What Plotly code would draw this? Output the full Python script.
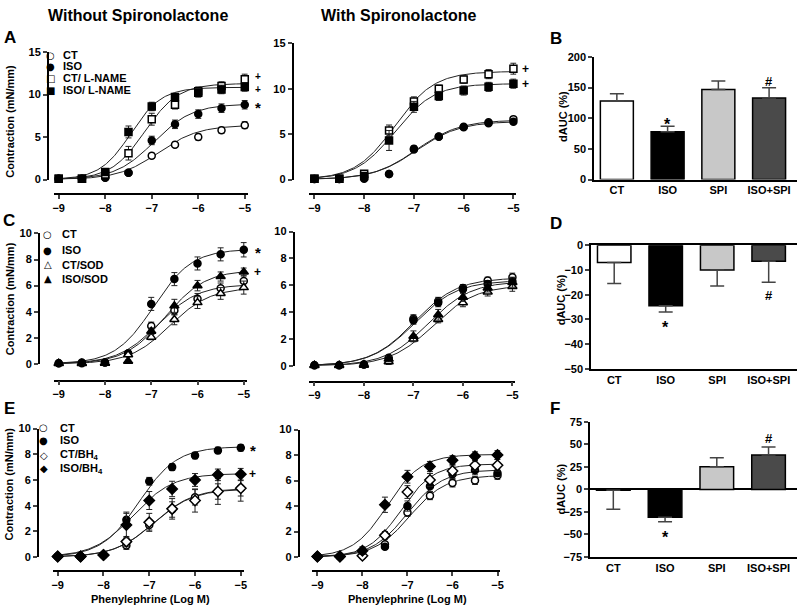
import numpy as np
import plotly.graph_objects as go

W, H = 800, 615
FONT = "Arial, Liberation Sans, sans-serif"

# ---------------- data ----------------
LOG_DOSE = [-9, -8.5, -8, -7.5, -7, -6.5, -6, -5.5, -5]
X_TICKS = [-9, -8, -7, -6, -5]

# Panel A (L-NAME)
A1_MEANS = {"CT": [0.1, 0.1, 0.25, 0.8, 2.8, 4.1, 5.0, 5.8, 6.4],
            "ISO": [0.1, 0.1, 0.2, 0.8, 4.6, 6.5, 7.7, 8.4, 8.8],
            "CT/ L-NAME": [0.1, 0.1, 0.6, 3.1, 7.1, 8.8, 10.4, 11.0, 11.8],
            "ISO/ L-NAME": [0.1, 0.1, 0.9, 5.6, 8.6, 9.7, 10.2, 10.6, 10.9]}
A1_SEMS = {"CT": [0.05, 0.05, 0.1, 0.2, 0.3, 0.3, 0.35, 0.35, 0.4],
           "ISO": [0.05, 0.05, 0.1, 0.2, 0.5, 0.5, 0.5, 0.5, 0.5],
           "CT/ L-NAME": [0.05, 0.05, 0.2, 0.8, 0.7, 0.5, 0.5, 0.5, 0.6],
           "ISO/ L-NAME": [0.05, 0.05, 0.3, 0.7, 0.5, 0.4, 0.5, 0.5, 0.5]}
A1_FITS = {"CT": [6.4, -6.85, 1.0], "ISO": [8.9, -6.95, 1.05],
           "CT/ L-NAME": [11.3, -7.15, 1.2], "ISO/ L-NAME": [10.85, -7.45, 1.3]}

A2_MEANS = {"CT": [0.05, 0.05, 0.3, 0.6, 3.3, 4.7, 5.8, 6.3, 6.65],
            "ISO": [0.05, 0.05, 0.1, 0.6, 3.4, 4.75, 5.75, 6.2, 6.35],
            "CT/ L-NAME": [0.1, 0.1, 0.65, 5.4, 8.6, 10.0, 11.0, 11.6, 12.2],
            "ISO/ L-NAME": [0.1, 0.1, 0.4, 4.3, 8.0, 9.2, 9.8, 10.2, 10.55]}
A2_SEMS = {"CT": [0.02, 0.02, 0.1, 0.15, 0.25, 0.25, 0.2, 0.2, 0.2],
           "ISO": [0.02, 0.02, 0.05, 0.15, 0.3, 0.25, 0.2, 0.2, 0.2],
           "CT/ L-NAME": [0.05, 0.05, 0.2, 0.6, 0.5, 0.4, 0.4, 0.5, 0.6],
           "ISO/ L-NAME": [0.05, 0.05, 0.2, 1.1, 0.6, 0.5, 0.5, 0.5, 0.5]}
A2_FITS = {"CT": [6.55, -6.95, 1.0], "ISO": [6.4, -6.95, 1.0],
           "CT/ L-NAME": [11.9, -7.38, 1.1], "ISO/ L-NAME": [10.55, -7.38, 1.1]}

# Panel C (SOD)
C1_MEANS = {"CT": [0.05, 0.05, 0.1, 0.8, 2.9, 4.1, 5.0, 5.8, 6.35],
            "ISO": [0.05, 0.1, 0.1, 0.8, 4.6, 6.5, 7.7, 8.4, 8.75],
            "CT/SOD": [0.02, 0.02, 0.05, 0.7, 2.05, 3.4, 4.7, 5.4, 5.85],
            "ISO/SOD": [0.05, 0.05, 0.05, 0.2, 2.5, 4.45, 6.0, 6.7, 7.05]}
C1_SEMS = {"CT": [0.02, 0.02, 0.05, 0.1, 0.3, 0.35, 0.4, 0.4, 0.4],
           "ISO": [0.02, 0.02, 0.05, 0.1, 0.5, 0.5, 0.5, 0.5, 0.55],
           "CT/SOD": [0.02, 0.02, 0.05, 0.1, 0.2, 0.4, 0.45, 0.45, 0.5],
           "ISO/SOD": [0.02, 0.02, 0.03, 0.1, 0.25, 0.5, 0.4, 0.35, 0.3]}
C1_FITS = {"CT": [6.1, -6.85, 1.0], "ISO": [8.8, -6.95, 1.05],
           "CT/SOD": [5.85, -6.6, 1.0], "ISO/SOD": [7.2, -6.7, 1.0]}

C2_MEANS = {"CT": [0.05, 0.05, 0.1, 0.6, 3.5, 4.8, 5.8, 6.35, 6.6],
            "ISO": [0.05, 0.05, 0.1, 0.5, 3.4, 4.7, 5.7, 6.1, 6.3],
            "CT/SOD": [0.02, 0.02, 0.05, 0.3, 2.0, 3.45, 4.7, 5.5, 5.9],
            "ISO/SOD": [0.05, 0.05, 0.1, 0.5, 2.2, 3.8, 5.1, 5.8, 6.2]}
C2_SEMS = {"CT": [0.02, 0.02, 0.05, 0.15, 0.3, 0.3, 0.25, 0.25, 0.3],
           "ISO": [0.02, 0.02, 0.05, 0.15, 0.3, 0.3, 0.25, 0.25, 0.3],
           "CT/SOD": [0.02, 0.02, 0.05, 0.2, 0.2, 0.25, 0.3, 0.3, 0.35],
           "ISO/SOD": [0.02, 0.02, 0.05, 0.2, 0.4, 0.4, 0.3, 0.3, 0.35]}
C2_FITS = {"CT": [6.55, -6.98, 1.0], "ISO": [6.35, -6.98, 1.0],
           "CT/SOD": [6.0, -6.6, 1.0], "ISO/SOD": [6.3, -6.7, 1.0]}

# Panel E (BH4)
E1_MEANS = {"CT": [0.05, 0.05, 0.15, 0.9, 2.5, 3.7, 4.65, 5.1, 5.35],
            "ISO": [0.05, 0.05, 0.15, 2.9, 5.9, 7.0, 7.9, 8.3, 8.5],
            "CT/BH4": [0.05, 0.05, 0.15, 1.2, 2.7, 3.75, 4.4, 5.1, 5.35],
            "ISO/BH4": [0.05, 0.05, 0.15, 2.5, 4.4, 5.3, 6.0, 6.4, 6.45]}
E1_SEMS = {"CT": [0.02, 0.02, 0.05, 0.3, 0.4, 0.6, 0.6, 0.6, 0.6],
           "ISO": [0.02, 0.02, 0.05, 0.5, 0.3, 0.25, 0.25, 0.25, 0.25],
           "CT/BH4": [0.02, 0.02, 0.05, 0.4, 0.7, 0.8, 0.9, 1.0, 1.0],
           "ISO/BH4": [0.02, 0.02, 0.05, 1.0, 0.7, 0.6, 0.5, 0.45, 0.45]}
E1_FITS = {"CT": [5.35, -6.9, 1.0], "ISO": [8.6, -7.22, 1.05],
           "CT/BH4": [5.3, -6.9, 1.0], "ISO/BH4": [6.5, -7.35, 1.0]}

E2_MEANS = {"CT": [0.05, 0.05, 0.1, 1.0, 3.5, 4.8, 5.8, 6.0, 6.4],
            "ISO": [0.05, 0.05, 0.1, 0.8, 4.0, 5.55, 6.5, 6.8, 6.6],
            "CT/BH4": [0.05, 0.05, 0.1, 1.7, 5.1, 6.05, 6.75, 7.2, 7.2],
            "ISO/BH4": [0.05, 0.05, 0.5, 4.1, 6.3, 7.1, 7.6, 7.9, 8.0]}
E2_SEMS = {"CT": [0.02, 0.02, 0.05, 0.15, 0.3, 0.3, 0.3, 0.3, 0.3],
           "ISO": [0.02, 0.02, 0.05, 0.15, 0.4, 0.4, 0.35, 0.35, 0.3],
           "CT/BH4": [0.02, 0.02, 0.05, 0.3, 0.5, 0.5, 0.4, 0.4, 0.45],
           "ISO/BH4": [0.02, 0.02, 0.3, 0.6, 0.5, 0.4, 0.35, 0.35, 0.35]}
E2_FITS = {"CT": [6.4, -6.95, 1.1], "ISO": [6.85, -7.0, 1.1],
           "CT/BH4": [7.3, -7.15, 1.2], "ISO/BH4": [8.05, -7.45, 1.15]}

# Bar panels (dAUC %)
BAR_CATS = ["CT", "ISO", "SPI", "ISO+SPI"]
B_MEAN = [128, 78, 147, 133]
B_SEM = [12, 9, 14, 17]
D_MEAN = [-7, -24.5, -10, -6.5]
D_SEM = [8.5, 2.5, 6.5, 8.5]
F_MEAN = [-1, -31, 25, 38]
F_SEM = [21, 5, 10, 9]

# ---------------- styling ----------------
BAR_COLORS = ["white", "black", "#c8c8c8", "#4a4a4a"]
SYMS = {
    "A": [("circle", "white"), ("circle", "black"), ("square", "white"), ("square", "black")],
    "C": [("circle", "white"), ("circle", "black"), ("triangle-up", "white"), ("triangle-up", "black")],
    "E": [("circle", "white"), ("circle", "black"), ("diamond", "white"), ("diamond", "black")],
}
GLYPHS = {"A": ["○", "●", "□", "■"], "C": ["○", "●", "△", "▲"], "E": ["○", "●", "◇", "◆"]}


def px(x):
    return x / W


def py(y):
    return 1 - y / H


fig = go.Figure()
layout = {}
annotations = []


def curve_panel(n, means, sems, fits, sym_key, yaxis_x, y0, ytop, ymax, dtick,
                xline_y, x9, x5, xl, xr):
    ppu = (x5 - x9) / 4.0
    xa = "x" if n == 1 else f"x{n}"
    ya = "y" if n == 1 else f"y{n}"
    xgrid = np.linspace(-9, -5, 200)
    for i, name in enumerate(means):
        top, ec50, hill = fits[name]
        yfit = top / (1 + 10 ** ((ec50 - xgrid) * hill))
        fig.add_trace(go.Scatter(x=xgrid, y=yfit, mode="lines", xaxis=xa, yaxis=ya,
                                 line=dict(color="#222", width=1), hoverinfo="skip",
                                 showlegend=False))
    for i, name in enumerate(means):
        sym, col = SYMS[sym_key][i]
        size = 7 if sym in ("circle", "square") else 8
        fig.add_trace(go.Scatter(
            x=LOG_DOSE, y=means[name], mode="markers", xaxis=xa, yaxis=ya,
            name=name, showlegend=False, cliponaxis=False,
            marker=dict(symbol=sym, size=size, color=col, line=dict(color="black", width=1.5)),
            error_y=dict(type="data", array=sems[name], color="#222", thickness=1, width=3)))
    layout["xaxis" if n == 1 else f"xaxis{n}"] = dict(
        domain=[px(xl), px(xr)], range=[-9 - (x9 - xl) / ppu, -5 + (xr - x5) / ppu],
        anchor="free", position=py(xline_y), tickvals=X_TICKS,
        ticks="outside", ticklen=4, tickwidth=1.5, showline=True, linewidth=1.5,
        linecolor="black", showgrid=False, zeroline=False,
        tickfont=dict(family=FONT, size=11, color="black", weight="bold"))
    layout["yaxis" if n == 1 else f"yaxis{n}"] = dict(
        domain=[py(y0), py(ytop)], range=[0, ymax], dtick=dtick,
        anchor="free", position=px(yaxis_x),
        ticks="outside", ticklen=4, tickwidth=1.5, showline=True, linewidth=1.5,
        linecolor="black", showgrid=False, zeroline=False,
        tickfont=dict(family=FONT, size=11, color="black", weight="bold"))


def bar_panel(n, means, sems, yaxis_x, y_bottom, y_top, yrange, dtick, xr, mirror, zeroline):
    xa = f"x{n}"
    ya = f"y{n}"
    up = [s if m > 0 else 0 for m, s in zip(means, sems)]
    down = [0 if m > 0 else s for m, s in zip(means, sems)]
    fig.add_trace(go.Bar(
        x=BAR_CATS, y=means, xaxis=xa, yaxis=ya, width=0.65, showlegend=False,
        marker=dict(color=BAR_COLORS, line=dict(color="black", width=1.5)),
        error_y=dict(type="data", symmetric=False, array=up, arrayminus=down,
                     color="#444", thickness=1.5, width=7)))
    layout[f"xaxis{n}"] = dict(
        domain=[px(yaxis_x), px(xr)], range=[-0.45, 3.55], anchor=ya, type="category",
        showline=True, linewidth=1.5, linecolor="black", mirror=mirror, ticks="",
        showgrid=False, zeroline=False,
        tickfont=dict(family=FONT, size=11, color="black", weight="bold"))
    layout[f"yaxis{n}"] = dict(
        domain=[py(y_bottom), py(y_top)], range=yrange, dtick=dtick, anchor=xa,
        ticks="outside", ticklen=4, tickwidth=1.5, showline=True, linewidth=1.5,
        linecolor="black", showgrid=False, zeroline=zeroline, zerolinecolor="black",
        zerolinewidth=1.5,
        tickfont=dict(family=FONT, size=11, color="black", weight="bold"))


# Row A
curve_panel(1, A1_MEANS, A1_SEMS, A1_FITS, "A", 47, 177, 47, 15, 5, 192, 58, 245, 53, 248)
curve_panel(2, A2_MEANS, A2_SEMS, A2_FITS, "A", 293, 177, 38, 15, 5, 192, 315, 515, 310, 518)
bar_panel(3, B_MEAN, B_SEM, 596, 177, 52, [0, 200], 50, 800, False, False)
# Row C
curve_panel(4, C1_MEANS, C1_SEMS, C1_FITS, "C", 38, 365, 232, 10, 2, 382, 58, 244, 53, 247)
curve_panel(5, C2_MEANS, C2_SEMS, C2_FITS, "C", 294, 367, 230, 10, 2, 383, 315, 514, 310, 517)
bar_panel(6, D_MEAN, D_SEM, 593, 370, 244, [-50, 0], 10, 800, True, False)
# Row E
curve_panel(7, E1_MEANS, E1_SEMS, E1_FITS, "E", 37, 562, 431, 10, 2, 576, 57, 241, 52, 244)
curve_panel(8, E2_MEANS, E2_SEMS, E2_FITS, "E", 299, 562, 432, 10, 2, 576, 318, 499, 313, 502)
bar_panel(9, F_MEAN, F_SEM, 592, 562, 424, [-75, 75], 25, 800, False, True)


def txt(x, y, s, size=11, bold=True, angle=0, xanchor="center", family=FONT):
    annotations.append(dict(
        x=px(x), y=py(y), xref="paper", yref="paper", text=s, showarrow=False,
        xanchor=xanchor, yanchor="middle", textangle=angle,
        font=dict(family=family, size=size, color="black", weight="bold" if bold else "normal")))


# headers and panel letters
txt(138, 10, "Without Spironolactone", size=16)
txt(400, 10, "With Spironolactone", size=16)
for letter, (lx, ly) in {"A": (9, 32), "C": (8, 219), "E": (9, 411),
                         "B": (558, 33), "D": (558, 222), "F": (557, 411)}.items():
    txt(lx, ly, letter, size=17)

# y-axis titles
for yy in (117, 298, 487):
    txt(9, yy, "Contraction (mN/mm)", size=11, angle=-90)
for (xx, yy) in ((565, 113), (563, 300), (563, 493)):
    txt(xx, yy, "dAUC (%)", size=11, angle=-90)
# x-axis titles
txt(150, 605, "Phenylephrine (Log M)", size=11)
txt(409, 605, "Phenylephrine (Log M)", size=11)

# legends
LEG_LABELS = {"A": list(A1_MEANS.keys()), "C": list(C1_MEANS.keys()),
              "E": ["CT", "ISO", "CT/BH<sub>4</sub>", "ISO/BH<sub>4</sub>"]}
LEG_POS = {"A": (50, 60, [50, 61.5, 73.5, 86]),
           "C": (47, 59, [233, 249, 264, 278]),
           "E": (43, 57, [430, 443, 458, 472])}
for key, (gx, tx, rows) in LEG_POS.items():
    for g, lab, ry in zip(GLYPHS[key], LEG_LABELS[key], rows):
        txt(gx, ry, g, size=10, bold=False, family="DejaVu Sans")
        txt(tx, ry, lab, size=11, xanchor="left")


# significance marks next to curves (data coords of each panel)
def mark(n, yval, s, shift, size=None):
    annotations.append(dict(
        x=-5, y=yval, xref=("x" if n == 1 else f"x{n}"), yref=("y" if n == 1 else f"y{n}"),
        text=s, showarrow=False, xshift=shift, yshift=(-3 if s == "*" else 0),
        font=dict(family=FONT, size=size or (15 if s == "*" else 12), color="black",
                  weight="bold")))


mark(1, A1_MEANS["CT/ L-NAME"][-1] + 0.35, "+", 13, 10)
mark(1, A1_MEANS["ISO/ L-NAME"][-1] - 0.35, "+", 13, 10)
mark(1, A1_MEANS["ISO"][-1], "*", 13)
mark(2, A2_MEANS["CT/ L-NAME"][-1], "+", 12)
mark(2, A2_MEANS["ISO/ L-NAME"][-1], "+", 12)
mark(4, C1_MEANS["ISO"][-1], "*", 14)
mark(4, C1_MEANS["ISO/SOD"][-1], "+", 14)
mark(7, E1_MEANS["ISO"][-1], "*", 12)
mark(7, E1_MEANS["ISO/BH4"][-1], "+", 12)


# significance marks on bars
def bar_mark(n, cat, yval, s):
    annotations.append(dict(
        x=cat, y=yval, xref=f"x{n}", yref=f"y{n}", text=s, showarrow=False,
        yshift=(-4 if s == "*" else 0),
        font=dict(family=FONT, size=16 if s == "*" else 13, color="black", weight="bold")))


bar_mark(3, "ISO", 96, "*")
bar_mark(3, "ISO+SPI", 160, "#")
bar_mark(6, "ISO", -31.7, "*")
bar_mark(6, "ISO+SPI", -20.2, "#")
bar_mark(9, "ISO", -49, "*")
bar_mark(9, "ISO+SPI", 56.5, "#")

fig.update_layout(
    width=W, height=H, margin=dict(l=0, r=0, t=0, b=0),
    paper_bgcolor="white", plot_bgcolor="white", showlegend=False,
    font=dict(family=FONT, color="black"), annotations=annotations, **layout)

# remove the default page margin so the 800x615 figure fills the window exactly
fig.write_html("out.html", config={"displayModeBar": False},
               post_script="document.body.style.margin='0px';")
